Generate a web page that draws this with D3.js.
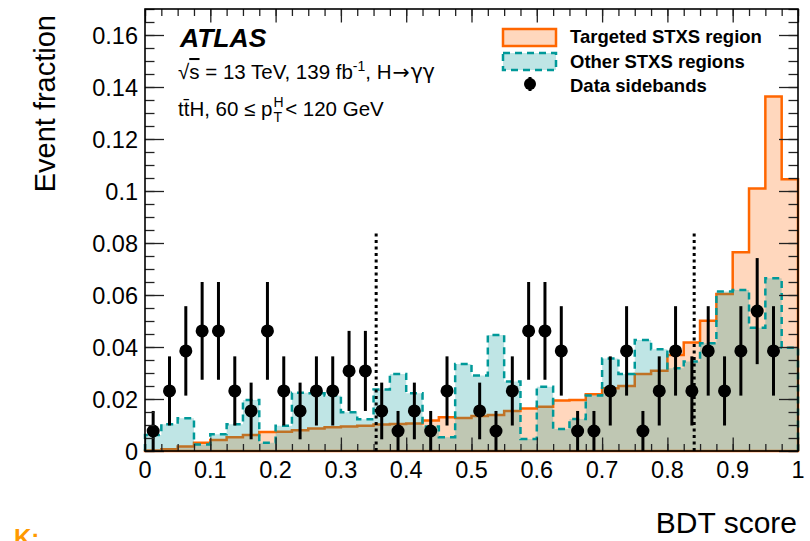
<!DOCTYPE html>
<html>
<head>
<meta charset="utf-8">
<script src="https://cdn.jsdelivr.net/npm/d3@7"></script>
<style>
  body { margin: 0; background: #fff; }
  svg { display: block; font-family: "Liberation Sans", Arial, Helvetica, sans-serif; }
</style>
</head>
<body>
<div id="chart"></div>
<script>
// BDT score bins (width 0.025)
const binLow = d3.range(40).map((i) => i * 0.025);
const binWidth = 0.025;

// Targeted STXS region (orange)
const targeted = [0.0002, 0.0007, 0.0017, 0.0032, 0.0042, 0.0053, 0.0062, 0.0073, 0.0074, 0.0080,
  0.0087, 0.0091, 0.0094, 0.0097, 0.0102, 0.0104, 0.0106, 0.0117, 0.0130, 0.0127,
  0.0135, 0.0138, 0.0154, 0.0163, 0.0170, 0.0194, 0.0196, 0.0218, 0.0241, 0.0250,
  0.0296, 0.0309, 0.0369, 0.0417, 0.0501, 0.0604, 0.0764, 0.1010, 0.1363, 0.1045];

// Other STXS regions (teal)
const other = [0.0062, 0.0103, 0.0126, 0.0025, 0.0064, 0.0103, 0.0196, 0.0032, 0.0097, 0.0224,
  0.0222, 0.0213, 0.0149, 0.0122, 0.0237, 0.0296, 0.0222, 0.0094, 0.0053, 0.0335,
  0.0290, 0.0446, 0.0267, 0.0046, 0.0247, 0.0085, 0.0123, 0.0213, 0.0356, 0.0296,
  0.0427, 0.0391, 0.0318, 0.0344, 0.0414, 0.0613, 0.0619, 0.0474, 0.0664, 0.0397];

// Data sidebands
const dataValues = [0.0077, 0.0231, 0.0385, 0.0462, 0.0462, 0.0231, 0.0154, 0.0462, 0.0231, 0.0154,
  0.0231, 0.0231, 0.0308, 0.0308, 0.0154, 0.0077, 0.0154, 0.0077, 0.0231, 0,
  0.0154, 0.0077, 0.0231, 0.0462, 0.0462, 0.0385, 0.0077, 0.0077, 0.0231, 0.0385,
  0.0077, 0.0231, 0.0385, 0.0231, 0.0385, 0.0231, 0.0385, 0.0538, 0.0385, 0];
const dataErrors = [0.0077, 0.0133, 0.0172, 0.0188, 0.0188, 0.0133, 0.0109, 0.0188, 0.0133, 0.0109,
  0.0133, 0.0133, 0.0154, 0.0154, 0.0109, 0.0077, 0.0109, 0.0077, 0.0133, 0,
  0.0109, 0.0077, 0.0133, 0.0188, 0.0188, 0.0172, 0.0077, 0.0077, 0.0133, 0.0172,
  0.0077, 0.0133, 0.0172, 0.0133, 0.0172, 0.0133, 0.0172, 0.0204, 0.0172, 0];

// category boundaries (dotted lines)
const cutValues = [0.354, 0.841];
const cutTop = 0.085;

const xTickValues = [0, 0.1, 0.2, 0.3, 0.4, 0.5, 0.6, 0.7, 0.8, 0.9, 1];
const xTickLabels = ["0", "0.1", "0.2", "0.3", "0.4", "0.5", "0.6", "0.7", "0.8", "0.9", "1"];
const yTickValues = [0, 0.02, 0.04, 0.06, 0.08, 0.1, 0.12, 0.14, 0.16];
const yTickLabels = ["0", "0.02", "0.04", "0.06", "0.08", "0.1", "0.12", "0.14", "0.16"];

const width = 810;
const height = 541;
const frameL = 145, frameR = 798, frameT = 9, frameB = 451;

const svg = d3.select("#chart").append("svg")
  .attr("width", width)
  .attr("height", height);

const x = d3.scaleLinear().domain([0, 1]).range([frameL, frameR]);
const y = d3.scaleLinear().domain([0, 0.17]).range([frameB, frameT]);

// step outline of a histogram
const histPath = (vals) => {
  let p = `M${x(0)},${y(0)}`;
  vals.forEach((v, i) => {
    p += `L${x(binLow[i])},${y(v)}L${x(binLow[i] + binWidth)},${y(v)}`;
  });
  p += `L${x(1)},${y(0)}`;
  return p;
};

const plot = svg.append("g");

plot.append("path")
  .attr("d", histPath(targeted) + "Z")
  .attr("fill", "rgba(255,102,0,0.26)")
  .attr("stroke", "#ff6600")
  .attr("stroke-width", 2.5);

plot.append("path")
  .attr("d", histPath(other) + "Z")
  .attr("fill", "rgba(0,153,153,0.25)")
  .attr("stroke", "none");

plot.append("path")
  .attr("d", histPath(other))
  .attr("fill", "none")
  .attr("stroke", "#009999")
  .attr("stroke-width", 2.5)
  .attr("stroke-dasharray", "7,5");

// dotted cut lines
plot.selectAll(".cut")
  .data(cutValues)
  .enter()
  .append("line")
  .attr("class", "cut")
  .attr("x1", (d) => x(d))
  .attr("x2", (d) => x(d))
  .attr("y1", y(0))
  .attr("y2", y(cutTop))
  .attr("stroke", "#000")
  .attr("stroke-width", 3)
  .attr("stroke-dasharray", "3,3.5");

// data points
const pts = binLow
  .map((b, i) => ({ c: b + binWidth / 2, v: dataValues[i], e: dataErrors[i] }))
  .filter((d) => d.v > 0);

plot.selectAll(".err")
  .data(pts)
  .enter()
  .append("line")
  .attr("class", "err")
  .attr("x1", (d) => x(d.c))
  .attr("x2", (d) => x(d.c))
  .attr("y1", (d) => y(Math.max(0, d.v - d.e)))
  .attr("y2", (d) => y(d.v + d.e))
  .attr("stroke", "#000")
  .attr("stroke-width", 3);

plot.selectAll(".pt")
  .data(pts)
  .enter()
  .append("circle")
  .attr("class", "pt")
  .attr("cx", (d) => x(d.c))
  .attr("cy", (d) => y(d.v))
  .attr("r", 6.5)
  .attr("fill", "#000");

// axes, ticks on all four sides pointing inward
const yMinor = d3.range(0, 0.1701, 0.005);
const xMinor = d3.range(0, 1.0001, 0.025);

const addAxis = (axis, tx, ty) => {
  const g = svg.append("g")
    .attr("transform", `translate(${tx},${ty})`)
    .call(axis);
  g.select(".domain").remove();
  g.selectAll("line").attr("stroke", "#222").attr("stroke-width", 1.3);
  g.selectAll("text").remove();
};

addAxis(d3.axisRight(y).tickValues(yTickValues).tickSize(19), frameL, 0);
addAxis(d3.axisRight(y).tickValues(yMinor).tickSize(9.5), frameL, 0);
addAxis(d3.axisLeft(y).tickValues(yTickValues).tickSize(19), frameR, 0);
addAxis(d3.axisLeft(y).tickValues(yMinor).tickSize(9.5), frameR, 0);
addAxis(d3.axisTop(x).tickValues(xTickValues).tickSize(13.5), 0, frameB);
addAxis(d3.axisTop(x).tickValues(xMinor).tickSize(7), 0, frameB);
addAxis(d3.axisBottom(x).tickValues(xTickValues).tickSize(13.5), 0, frameT);
addAxis(d3.axisBottom(x).tickValues(xMinor).tickSize(7), 0, frameT);

svg.append("rect")
  .attr("x", frameL)
  .attr("y", frameT)
  .attr("width", frameR - frameL)
  .attr("height", frameB - frameT)
  .attr("fill", "none")
  .attr("stroke", "#000")
  .attr("stroke-width", 1.6);

// tick labels
svg.selectAll(".ylab")
  .data(yTickValues)
  .enter()
  .append("text")
  .attr("class", "ylab")
  .attr("x", 138)
  .attr("y", (d) => y(d) + 8.5)
  .attr("text-anchor", "end")
  .style("font-size", "23.5px")
  .text((d, i) => yTickLabels[i]);

svg.selectAll(".xlab")
  .data(xTickValues)
  .enter()
  .append("text")
  .attr("class", "xlab")
  .attr("x", (d) => x(d))
  .attr("y", 478)
  .attr("text-anchor", "middle")
  .style("font-size", "23.5px")
  .text((d, i) => xTickLabels[i]);

// axis titles
svg.append("text")
  .attr("transform", "translate(55,15) rotate(-90)")
  .attr("text-anchor", "end")
  .style("font-size", "29px")
  .text("Event fraction");

svg.append("text")
  .attr("x", 797)
  .attr("y", 533)
  .attr("text-anchor", "end")
  .style("font-size", "30px")
  .text("BDT score");

// ATLAS label
svg.append("text")
  .attr("x", 180)
  .attr("y", 47)
  .style("font-size", "26.5px")
  .style("font-weight", "bold")
  .style("font-style", "italic")
  .text("ATLAS");

const l1 = svg.append("text")
  .attr("x", 178)
  .attr("y", 79)
  .style("font-size", "20.5px");
l1.append("tspan").text("√");
l1.append("tspan").style("text-decoration", "overline").text("s");
l1.append("tspan").text(" = 13 TeV, 139 fb");
l1.append("tspan").attr("dy", -8).style("font-size", "14px").text("-1");
l1.append("tspan").attr("dy", 8).text(", H");
l1.append("tspan").attr("dx", 1).style("font-family", "DejaVu Sans").text("→");
l1.append("tspan").attr("dx", 1).style("font-family", "DejaVu Sans").text("γγ");

const l2 = svg.append("text")
  .attr("x", 178)
  .attr("y", 116)
  .style("font-size", "20.5px");
l2.append("tspan").text("tt\u0304H, 60 ≤ p");
l2.append("tspan").attr("dx", 1).attr("dy", -9).style("font-size", "14px").text("H");
l2.append("tspan").attr("dx", -10).attr("dy", 15).style("font-size", "14px").text("T");
l2.append("tspan").attr("dx", 3).attr("dy", -6).text("< 120 GeV");

// legend
const legend = svg.append("g");
legend.append("rect")
  .attr("x", 503).attr("y", 29).attr("width", 53).attr("height", 17)
  .attr("fill", "rgba(255,102,0,0.26)")
  .attr("stroke", "#ff6600")
  .attr("stroke-width", 2.5);
legend.append("rect")
  .attr("x", 503).attr("y", 53).attr("width", 53).attr("height", 17)
  .attr("fill", "rgba(0,153,153,0.25)")
  .attr("stroke", "#009999")
  .attr("stroke-width", 2.5)
  .attr("stroke-dasharray", "7,5");
legend.append("line")
  .attr("x1", 530).attr("x2", 530).attr("y1", 77).attr("y2", 91)
  .attr("stroke", "#000").attr("stroke-width", 3);
legend.append("circle")
  .attr("cx", 530).attr("cy", 84).attr("r", 6)
  .attr("fill", "#000");

const legendLabels = ["Targeted STXS region", "Other STXS regions", "Data sidebands"];
legend.selectAll(".leg")
  .data(legendLabels)
  .enter()
  .append("text")
  .attr("class", "leg")
  .attr("x", 570)
  .attr("y", (d, i) => 43 + i * 24.5)
  .style("font-size", "18.5px")
  .style("font-weight", "bold")
  .text((d) => d);

// fragment of the neighbouring page visible at the bottom edge
svg.append("text")
  .attr("x", 14)
  .attr("y", 546)
  .style("font-size", "24px")
  .style("font-weight", "bold")
  .attr("fill", "#ff9900")
  .text("K:");
</script>
</body>
</html>
